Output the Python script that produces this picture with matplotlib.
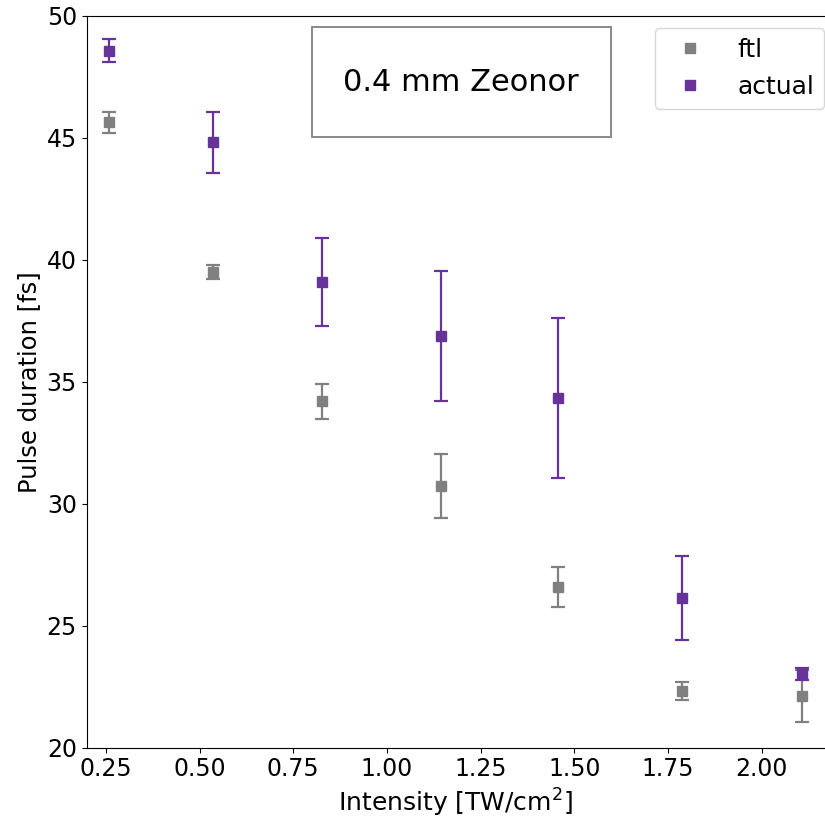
import matplotlib
matplotlib.use('Agg')
import matplotlib.pyplot as plt
from matplotlib.lines import Line2D
from matplotlib.patches import Rectangle

# intensity in TW/cm^2
intensity = [0.259, 0.536, 0.826, 1.143, 1.457, 1.788, 2.107]

ftl = [45.64, 39.49, 34.19, 30.74, 26.57, 22.33, 22.12]
ftl_err = [0.43, 0.30, 0.73, 1.31, 0.82, 0.38, 1.06]

actual = [48.56, 44.81, 39.08, 36.86, 34.33, 26.13, 23.03]
actual_err = [0.47, 1.25, 1.80, 2.67, 3.28, 1.73, 0.25]

purple = '#663399'
grey = 'grey'

fig = plt.figure(figsize=(8.25, 8.21), dpi=100)
ax = fig.add_axes([0.105, 0.0893, 0.895, 0.8916])

ax.errorbar(intensity, ftl, yerr=ftl_err, fmt='s', color=grey, ms=7.5,
            elinewidth=1.6, capsize=5, capthick=1.6, label='ftl')
ax.errorbar(intensity, actual, yerr=actual_err, fmt='s', color=purple, ms=7.5,
            elinewidth=1.6, capsize=5, capthick=1.6, label='actual')

ax.set_xlim(0.1985, 2.169)
ax.set_ylim(20, 50)
ax.set_xticks([0.25, 0.5, 0.75, 1.0, 1.25, 1.5, 1.75, 2.0])
ax.set_yticks([20, 25, 30, 35, 40, 45, 50])
ax.tick_params(labelsize=17)
ax.spines['right'].set_visible(False)

ax.set_xlabel('Intensity [TW/cm$^2$]', fontsize=18)
ax.set_ylabel('Pulse duration [fs]', fontsize=17.5)

# sample label box
ax.add_patch(Rectangle((0.305, 0.834), 0.405, 0.150, transform=ax.transAxes,
                       fill=False, edgecolor='grey', lw=1.3))
ax.text(0.5075, 0.909, '0.4 mm Zeonor', transform=ax.transAxes,
        ha='center', va='center', fontsize=22)

handles = [Line2D([], [], ls='none', marker='s', color=grey, ms=7),
           Line2D([], [], ls='none', marker='s', color=purple, ms=7)]
ax.legend(handles, ['ftl', 'actual'], loc='upper right', fontsize=18,
          handletextpad=0.9, borderaxespad=0,
          bbox_to_anchor=(0.999, 0.983))

fig.savefig('out.png', dpi=100)
